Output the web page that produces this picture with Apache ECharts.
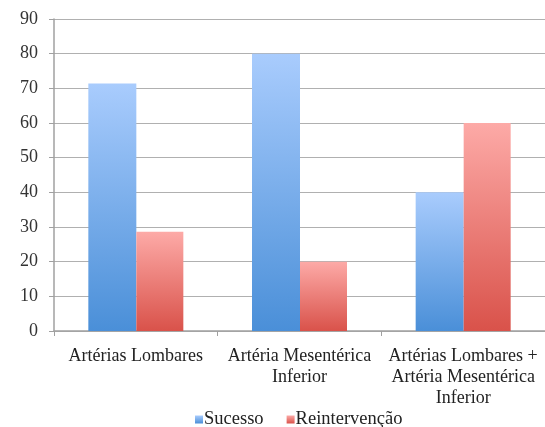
<!DOCTYPE html>
<html>
<head>
<meta charset="utf-8">
<script src="https://cdn.jsdelivr.net/npm/echarts@6/dist/echarts.min.js"></script>
<style>html,body{margin:0;padding:0;background:#fff}#c{width:545px;height:427px}</style>
</head>
<body>
<div id="c"></div>
<script>
const categories = ['Artérias Lombares', 'Artéria Mesentérica\nInferior', 'Artérias Lombares +\nArtéria Mesentérica\nInferior'];
const sucesso = [71.4, 80, 40];
const reintervencao = [28.6, 20, 60];
const seriesNames = ['Sucesso', 'Reintervenção'];

const font = 'Liberation Serif';
const chart = echarts.init(document.getElementById('c'));
function grad(top, bottom) {
  return new echarts.graphic.LinearGradient(0, 0, 0, 1, [{offset: 0, color: top}, {offset: 1, color: bottom}]);
}
chart.setOption({
  animation: false,
  textStyle: {fontFamily: font},
  grid: {left: 54, right: -6, top: 19, bottom: 96, containLabel: false},
  legend: {
    top: 405, left: 190, itemWidth: 8, itemHeight: 8, itemGap: 23,
    icon: 'rect',
    textStyle: {fontFamily: font, fontSize: 18.5, color: '#222', padding: [0, 0, 0, -4]},
    data: seriesNames
  },
  xAxis: {
    type: 'category', data: categories,
    axisLine: {lineStyle: {color: '#a0a0a0', width: 1.5}},
    axisTick: {show: true, length: 5, lineStyle: {color: '#a0a0a0'}},
    axisLabel: {fontFamily: font, fontSize: 18, color: '#222', lineHeight: 21, margin: 15, interval: 0}
  },
  yAxis: {
    type: 'value', min: 0, max: 90, interval: 10,
    axisLine: {show: true, lineStyle: {color: '#a0a0a0', width: 1.5}},
    axisTick: {show: true, length: 5, lineStyle: {color: '#a0a0a0'}},
    splitLine: {lineStyle: {color: '#b0b0b0', width: 1.2}},
    axisLabel: {fontFamily: font, fontSize: 18, color: '#333', margin: 16}
  },
  series: [
    {name: seriesNames[0], type: 'bar', data: sucesso, barWidth: 48, barGap: '0%',
     itemStyle: {color: grad('#a9ccfd', '#4a8fd8')}},
    {name: seriesNames[1], type: 'bar', data: reintervencao, barWidth: 47,
     itemStyle: {color: grad('#fdaaa7', '#d9524a')}}
  ]
});
</script>
</body>
</html>
